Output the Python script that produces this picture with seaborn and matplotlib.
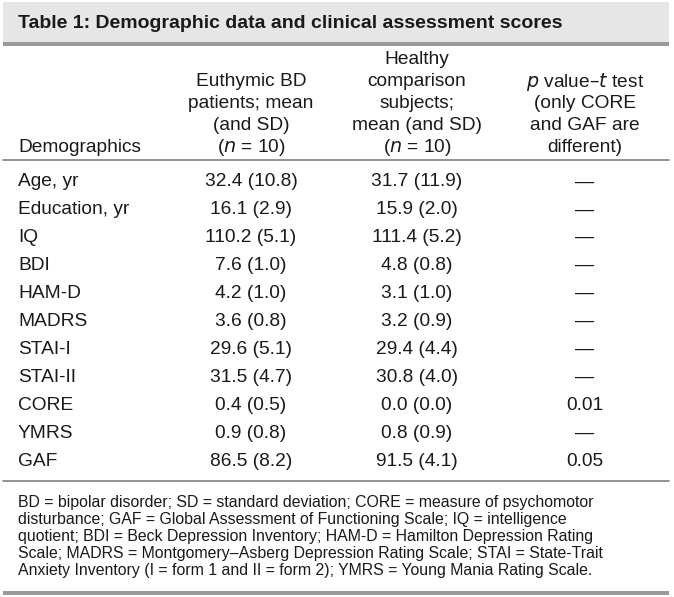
import matplotlib
matplotlib.use("Agg")
import matplotlib.pyplot as plt
import seaborn as sns
from matplotlib.patches import Rectangle

sns.set_theme(style="white")
plt.rcParams['font.family'] = ['Liberation Sans', 'DejaVu Sans']

title = "Table 1: Demographic data and clinical assessment scores"
col_headers = [
    ["Demographics"],
    ["Euthymic BD", "patients; mean", "(and SD)", r"($\it{n}$ = 10)"],
    ["Healthy", "comparison", "subjects;", "mean (and SD)", r"($\it{n}$ = 10)"],
    [r"$\it{p}$ value–$\it{t}$ test", "(only CORE", "and GAF are", "different)"],
]
demographics = ["Age, yr", "Education, yr", "IQ", "BDI", "HAM-D", "MADRS",
                "STAI-I", "STAI-II", "CORE", "YMRS", "GAF"]
bd_values = ["32.4 (10.8)", "16.1 (2.9)", "110.2 (5.1)", "7.6 (1.0)", "4.2 (1.0)",
             "3.6 (0.8)", "29.6 (5.1)", "31.5 (4.7)", "0.4 (0.5)", "0.9 (0.8)", "86.5 (8.2)"]
hc_values = ["31.7 (11.9)", "15.9 (2.0)", "111.4 (5.2)", "4.8 (0.8)", "3.1 (1.0)",
             "3.2 (0.9)", "29.4 (4.4)", "30.8 (4.0)", "0.0 (0.0)", "0.8 (0.9)", "91.5 (4.1)"]
p_values = ["—", "—", "—", "—", "—", "—", "—", "—", "0.01", "—", "0.05"]
footnote = [
    "BD = bipolar disorder; SD = standard deviation; CORE = measure of psychomotor",
    "disturbance; GAF = Global Assessment of Functioning Scale; IQ = intelligence",
    "quotient; BDI = Beck Depression Inventory; HAM-D = Hamilton Depression Rating",
    "Scale; MADRS = Montgomery–Asberg Depression Rating Scale; STAI = State-Trait",
    "Anxiety Inventory (I = form 1 and II = form 2); YMRS = Young Mania Rating Scale.",
]

W, H = 674, 597
fig = plt.figure(figsize=(W / 100, H / 100), dpi=100)
ax = fig.add_axes([0, 0, 1, 1])
ax.set_xlim(0, W)
ax.set_ylim(H, 0)
ax.axis("off")

txt = "#1a1a1a"
fs = 13.8
# title band
ax.add_patch(Rectangle((3, 2), 666, 40, color="#e6e6e6", lw=0))
ax.add_patch(Rectangle((3, 42), 666, 4, color="#9a9a9a", lw=0))
ax.text(18, 23, title, fontsize=14.0, fontweight="bold", color=txt, va="center", ha="left")

# header
col_x = [18, 251, 417, 585]
line_h = 22
bottom_hdr = 148
for i, lines in enumerate(col_headers):
    n = len(lines)
    for j, s in enumerate(lines):
        y = bottom_hdr - (n - 1 - j) * line_h
        ax.text(col_x[i], y, s, fontsize=fs, color=txt, va="center",
                ha="left" if i == 0 else "center")
ax.plot([3, 669], [159.5, 159.5], color="#8a8a8a", lw=1.3)

# body
row0, row_h = 182, 27.9
for k in range(len(demographics)):
    y = row0 + k * row_h
    ax.text(col_x[0], y, demographics[k], fontsize=fs, color=txt, va="center", ha="left")
    ax.text(col_x[1], y, bd_values[k], fontsize=fs, color=txt, va="center", ha="center")
    ax.text(col_x[2], y, hc_values[k], fontsize=fs, color=txt, va="center", ha="center")
    ax.text(col_x[3], y, p_values[k], fontsize=fs, color=txt, va="center", ha="center")
ax.plot([3, 669], [481, 481], color="#8a8a8a", lw=1.3)

# footnote
for k, s in enumerate(footnote):
    ax.text(18, 502 + k * 17.2, s, fontsize=11.4, color=txt, va="center", ha="left")
ax.add_patch(Rectangle((3, 591), 666, 4, color="#9a9a9a", lw=0))

fig.savefig("out.png", dpi=100)
